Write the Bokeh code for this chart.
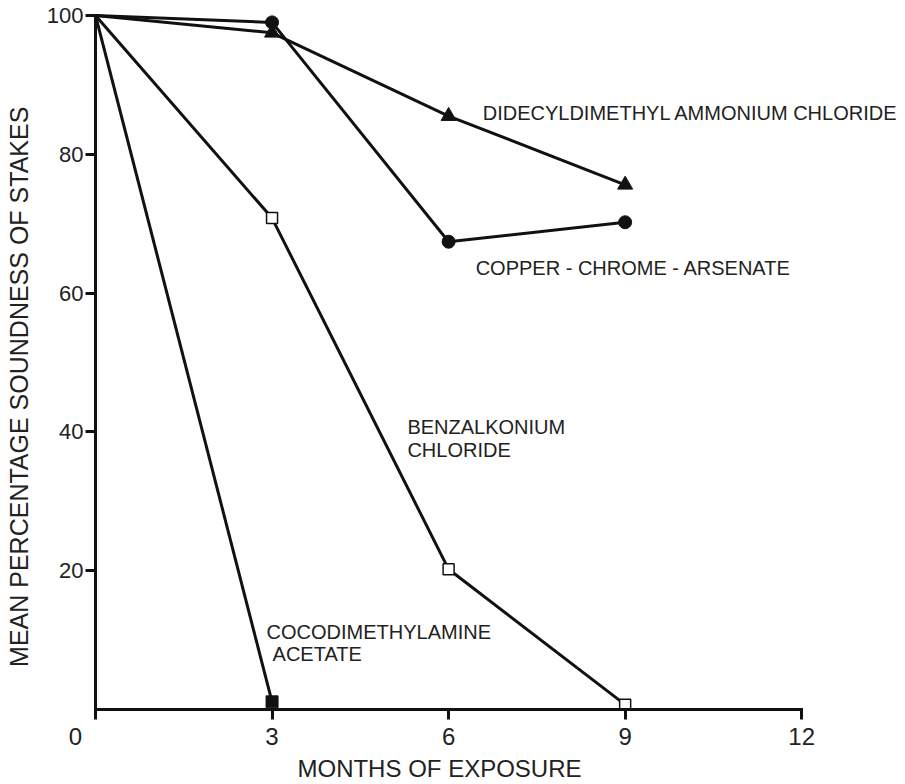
from bokeh.plotting import figure
from bokeh.models import Label, FixedTicker
from bokeh.embed import file_html
from bokeh.resources import INLINE

# ---- data ----
months = [0, 3, 6, 9]
didecyl = [100, 97.5, 85.5, 75.6]      # triangles
cca = [100, 99.0, 67.4, 70.2]          # filled circles
benzalk = [100, 70.8, 20.2, 0.7]       # open squares
coco_months = [0, 3]
coco = [100, 1.1]                      # filled square
x_ticks = [0, 3, 6, 9, 12]
y_ticks = [20, 40, 60, 80, 100]

FONT = "Liberation Sans"
INK = "#111111"
TXT = "#222222"
NB = "\u00a0"

p = figure(width=904, height=784, x_range=(0, 13.73), y_range=(0, 101.0),
           min_border_left=95, min_border_right=1, min_border_top=8,
           min_border_bottom=71, output_backend="svg", toolbar_location=None)
p.outline_line_color = None
p.xgrid.grid_line_color = None
p.ygrid.grid_line_color = None
p.background_fill_color = "white"

for ax in (p.xaxis, p.yaxis):
    ax.axis_line_width = 3
    ax.axis_line_color = INK
    ax.axis_line_cap = "square"
    ax.major_tick_line_width = 3
    ax.major_tick_line_color = INK
    ax.major_tick_out = 10
    ax.major_tick_in = 0
    ax.minor_tick_line_color = None
    ax.major_label_text_font = FONT
    ax.major_label_text_color = TXT
    ax.axis_label_text_font = FONT
    ax.axis_label_text_font_style = "normal"
    ax.axis_label_text_color = TXT

p.xaxis.bounds = (0, 12)
p.yaxis.bounds = (0, 100)
p.xaxis.ticker = FixedTicker(ticks=x_ticks)
p.yaxis.ticker = FixedTicker(ticks=y_ticks)
p.xaxis.major_label_overrides = {0: "0" + NB * 6}
p.xaxis.major_label_text_font_size = "24px"
p.xaxis.major_label_standoff = 3
p.yaxis.major_label_text_font_size = "22px"
p.yaxis.major_label_standoff = 2

p.xaxis.axis_label = "MONTHS OF EXPOSURE" + NB * 18
p.xaxis.axis_label_text_font_size = "24px"
p.xaxis.axis_label_standoff = 2
p.yaxis.axis_label = "MEAN PERCENTAGE SOUNDNESS OF STAKES" + NB * 8
p.yaxis.axis_label_text_font_size = "25px"
p.yaxis.axis_label_standoff = 11

# series lines
p.line(months, didecyl, line_color=INK, line_width=3)
p.line(months, cca, line_color=INK, line_width=3)
p.line(months, benzalk, line_color=INK, line_width=3)
p.line(coco_months, coco, line_color=INK, line_width=3)

# markers (no marker at the origin point)
p.scatter(months[1:], didecyl[1:], marker="triangle", size=15,
          fill_color=INK, line_color=INK)
p.scatter(months[1:], cca[1:], marker="circle", size=13,
          fill_color=INK, line_color=INK)
p.scatter(months[1:], benzalk[1:], marker="square", size=11,
          fill_color="white", line_color=INK, line_width=1.5)
p.scatter(coco_months[1:], coco[1:], marker="square", size=12,
          fill_color=INK, line_color=INK)

def lab(x, y, text, size="20px"):
    p.add_layout(Label(x=x, y=y, text=text,
                       text_font=FONT, text_font_size=size,
                       text_color=TXT, text_align="left",
                       text_baseline="alphabetic"))

lab(6.58, 85.96, "DIDECYLDIMETHYL AMMONIUM CHLORIDE")
lab(6.46, 63.6, "COPPER - CHROME - ARSENATE")
lab(5.30, 40.69, "BENZALKONIUM")
lab(5.30, 37.39, "CHLORIDE")
lab(2.907, 11.17, "COCODIMETHYLAMINE")
lab(3.009, 8.02, "ACETATE")

open("out.html", "w").write(file_html(p, INLINE))
